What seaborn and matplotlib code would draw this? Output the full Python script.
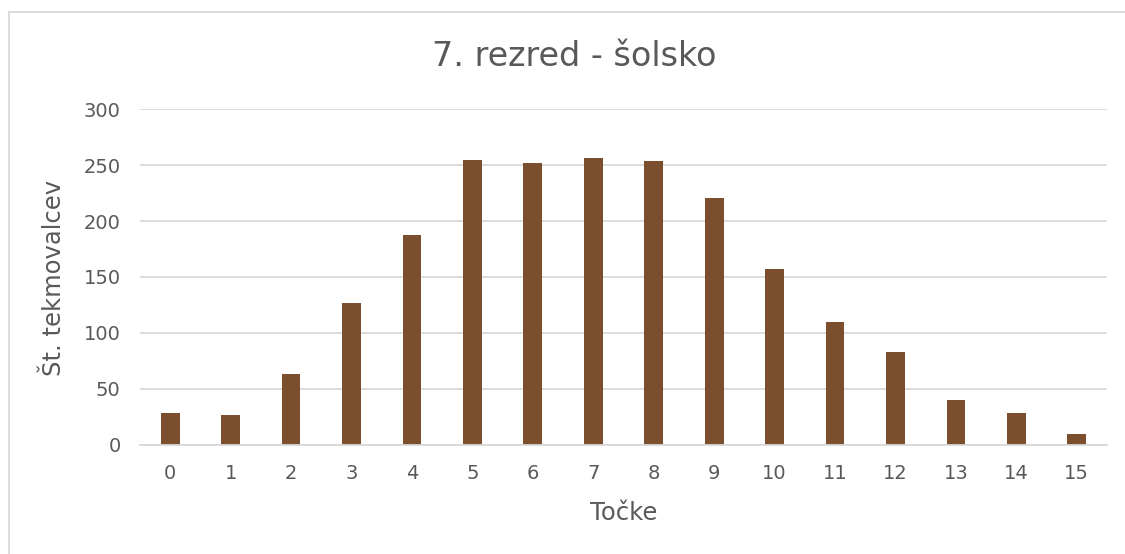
import matplotlib
matplotlib.use("Agg")
import matplotlib.pyplot as plt
import seaborn as sns
import pandas as pd
from matplotlib.patches import Rectangle

points = [str(i) for i in range(16)]
counts = [28, 26, 63, 127, 188, 255, 252, 257, 254, 221, 157, 110, 83, 40, 28, 9]
title = "7. rezred - šolsko"
xlabel = "Točke"
ylabel = "Št. tekmovalcev"
yticks = [0, 50, 100, 150, 200, 250, 300]

sns.set_theme(style="white")
plt.rcParams['font.family'] = ['DejaVu Sans']

W, H = 1125, 554
TXT = "#595959"
fig = plt.figure(figsize=(W / 100, H / 100), dpi=100)
ax = fig.add_axes([140 / W, 1 - 444.5 / H, (1107 - 140) / W, (444.5 - 109.5) / H])

df = pd.DataFrame({"pts": points, "n": counts})
sns.barplot(data=df, x="pts", y="n", order=points, color="#7B4F2E", width=0.31,
            saturation=1, ax=ax, edgecolor="none")

ax.set_ylim(0, 300)
ax.set_xlim(-0.5, 15.5)
ax.set_yticks(yticks)
ax.yaxis.grid(True, color="#D9D9D9", linewidth=1.3)
ax.set_axisbelow(True)
for s in ["top", "right", "left"]:
    ax.spines[s].set_visible(False)
ax.spines["bottom"].set_color("#D9D9D9")
ax.spines["bottom"].set_linewidth(1.3)
ax.tick_params(axis="both", length=0, labelsize=14, labelcolor=TXT)
ax.tick_params(axis="y", pad=14)
ax.tick_params(axis="x", pad=14)
ax.set_xlabel(xlabel, fontsize=17.5, color=TXT, va="center")
ax.set_ylabel(ylabel, fontsize=17.5, color=TXT, va="center")
ax.xaxis.set_label_coords(0.5, (444.5 - 513) / 335)
ax.yaxis.set_label_coords((54 - 140) / 967, (444.5 - 278) / 335)

fig.text(574 / W, 1 - 57 / H, title, ha="center", va="center", fontsize=24, color=TXT)

fig.patches.append(Rectangle((9 / W, -0.05), 1.2, 1 - 12 / H + 0.05, transform=fig.transFigure,
                             fill=False, edgecolor="#D9D9D9", linewidth=1.3))

fig.savefig("out.png", dpi=100, facecolor="white")
